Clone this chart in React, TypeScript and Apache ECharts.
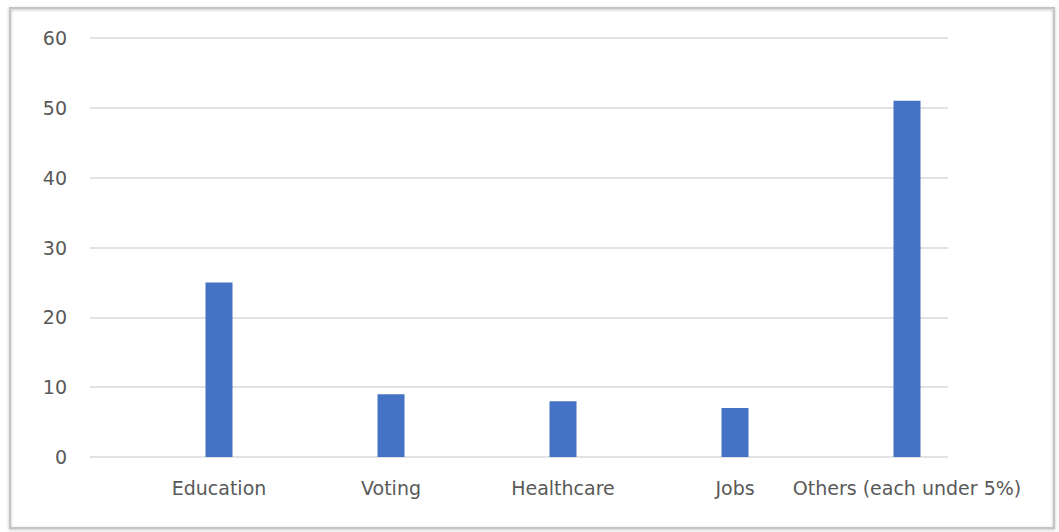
import React, { useEffect, useRef } from "react";
import * as echarts from "echarts";

const categories = ["Education", "Voting", "Healthcare", "Jobs", "Others (each under 5%)"];
const values = [25, 9, 8, 7, 51];
const yTicks = { min: 0, max: 60, interval: 10 };

export default function App() {
  const ref = useRef<HTMLDivElement>(null);
  useEffect(() => {
    if (!ref.current) return;
    const chart = echarts.init(ref.current, undefined, { renderer: "svg" });
    const labelFont = "'DejaVu Sans', 'Open Sans', sans-serif";
    chart.setOption({
      animation: false,
      backgroundColor: "#ffffff",
      graphic: [
        {
          type: "rect",
          shape: { x: 10, y: 8, width: 1044, height: 520 },
          style: { fill: "none", stroke: "#c4c4c4", lineWidth: 2, shadowBlur: 3, shadowColor: "rgba(0,0,0,0.25)", shadowOffsetY: 1 },
          silent: true,
        },
      ],
      grid: [
        { left: 90, right: 111, top: 38, bottom: 75 },
        { left: 133, right: 66, top: 38, bottom: 75 },
      ],
      xAxis: [
        { type: "category", gridIndex: 0, data: categories, show: false },
        {
          type: "category",
          gridIndex: 1,
          data: categories,
          axisLine: { show: false },
          axisTick: { show: false },
          axisLabel: { color: "#595959", fontSize: 19, fontFamily: labelFont, margin: 21, interval: 0 },
        },
      ],
      yAxis: [
        {
          type: "value",
          gridIndex: 0,
          min: yTicks.min,
          max: yTicks.max,
          interval: yTicks.interval,
          axisLine: { show: false },
          axisTick: { show: false },
          axisLabel: { color: "#595959", fontSize: 19, fontFamily: labelFont, margin: 23 },
          splitLine: { lineStyle: { color: "#d9d9d9", width: 1.5 } },
        },
        {
          type: "value",
          gridIndex: 1,
          min: yTicks.min,
          max: yTicks.max,
          interval: yTicks.interval,
          show: false,
          splitLine: { show: false },
        },
      ],
      series: [
        {
          type: "bar",
          xAxisIndex: 1,
          yAxisIndex: 1,
          data: values,
          barWidth: 27,
          itemStyle: { color: "#4472c4" },
        },
      ],
    });
    return () => chart.dispose();
  }, []);
  return <div ref={ref} style={{ position: "fixed", left: 0, top: 0, width: 1059, height: 532 }} />;
}
